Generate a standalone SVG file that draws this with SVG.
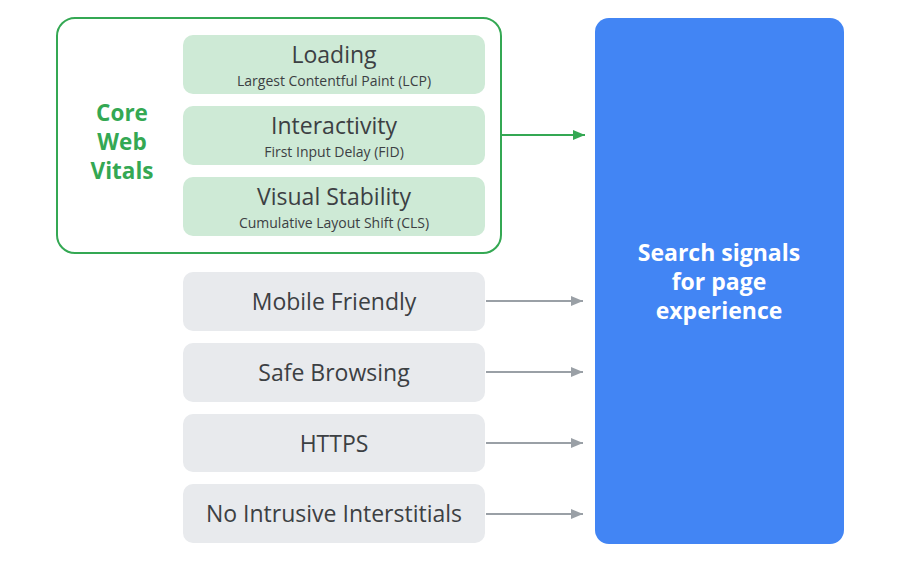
<svg xmlns="http://www.w3.org/2000/svg" width="919" height="568" viewBox="0 0 919 568">
<style>
.cwv{fill:none;stroke:#34A853;stroke-width:2}
.g{fill:#CEEAD6}
.n{fill:#E8EAED}
.t{font-family:"Open Sans","Liberation Sans",sans-serif;fill:#3C4043;text-anchor:middle}
.h{font-size:23px}
.s{font-size:14px}
.gl{font-family:"Open Sans","Liberation Sans",sans-serif;font-weight:bold;font-size:22.5px;fill:#34A853;text-anchor:middle}
.w{font-family:"Open Sans","Liberation Sans",sans-serif;font-weight:bold;font-size:23px;fill:#FFFFFF;text-anchor:middle}
.ca{stroke:#9AA0A6;stroke-width:2;fill:none}
.cg{stroke:#34A853;stroke-width:2;fill:none}
</style>
<defs>
<marker id="ag" markerWidth="12" markerHeight="10" refX="12" refY="5" orient="auto" markerUnits="userSpaceOnUse"><path d="M0,0 L12,5 L0,10 z" fill="#34A853"/></marker>
<marker id="ay" markerWidth="12" markerHeight="10" refX="12" refY="5" orient="auto" markerUnits="userSpaceOnUse"><path d="M0,0 L12,5 L0,10 z" fill="#9AA0A6"/></marker>
</defs>
<rect width="919" height="568" fill="#FFFFFF"/>
<g id="core-web-vitals">
<rect class="cwv" x="57" y="18" width="444" height="235" rx="18"/>
<text class="gl" x="122" y="121">Core</text>
<text class="gl" x="122" y="150">Web</text>
<text class="gl" x="122" y="179">Vitals</text>
</g>
<g id="loading">
<rect class="g" x="183" y="35" width="302" height="59" rx="10"/>
<text class="t h" x="334" y="63">Loading</text>
<text class="t s" x="334" y="86">Largest Contentful Paint (LCP)</text>
</g>
<g id="interactivity">
<rect class="g" x="183" y="106" width="302" height="59" rx="10"/>
<text class="t h" x="334" y="134">Interactivity</text>
<text class="t s" x="334" y="157">First Input Delay (FID)</text>
</g>
<g id="visual-stability">
<rect class="g" x="183" y="177" width="302" height="59" rx="10"/>
<text class="t h" x="334" y="205">Visual Stability</text>
<text class="t s" x="334" y="228">Cumulative Layout Shift (CLS)</text>
</g>
<g id="mobile-friendly">
<rect class="n" x="183" y="272" width="302" height="59" rx="10"/>
<text class="t h" x="334" y="310">Mobile Friendly</text>
</g>
<g id="safe-browsing">
<rect class="n" x="183" y="343" width="302" height="59" rx="10"/>
<text class="t h" x="334" y="381">Safe Browsing</text>
</g>
<g id="https">
<rect class="n" x="183" y="414" width="302" height="58" rx="10"/>
<text class="t h" x="334" y="452">HTTPS</text>
</g>
<g id="no-intrusive">
<rect class="n" x="183" y="484" width="302" height="59" rx="10"/>
<text class="t h" x="334" y="522">No Intrusive Interstitials</text>
</g>
<g id="search-signals">
<rect x="595" y="18" width="249" height="526" rx="14" fill="#4285F4"/>
<text class="w" x="719" y="261">Search signals</text>
<text class="w" x="719" y="290">for page</text>
<text class="w" x="719" y="319">experience</text>
</g>
<g id="connectors">
<line class="cg" x1="501" y1="135" x2="585" y2="135" marker-end="url(#ag)"/>
<line class="ca" x1="486" y1="301" x2="583" y2="301" marker-end="url(#ay)"/>
<line class="ca" x1="486" y1="372" x2="583" y2="372" marker-end="url(#ay)"/>
<line class="ca" x1="486" y1="443" x2="583" y2="443" marker-end="url(#ay)"/>
<line class="ca" x1="486" y1="514" x2="583" y2="514" marker-end="url(#ay)"/>
</g>
</svg>
